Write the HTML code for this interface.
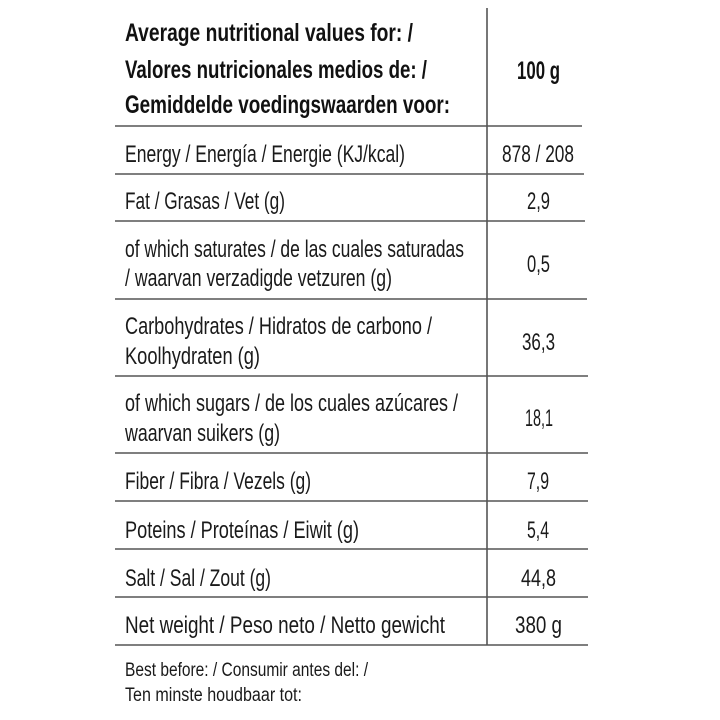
<!DOCTYPE html>
<html><head><meta charset="utf-8"><style>html,body{margin:0;padding:0;background:#fff}svg{display:block}</style></head>
<body>
<svg width="720" height="720" viewBox="0 0 720 720" xmlns="http://www.w3.org/2000/svg" font-family="Liberation Sans, sans-serif" fill="#111">
<g stroke="#555" stroke-width="1.6">
<line x1="487" y1="8" x2="487" y2="645"/>
<line x1="115" y1="126" x2="582" y2="126"/>
<line x1="115" y1="174" x2="584" y2="174"/>
<line x1="115" y1="221" x2="585" y2="221"/>
<line x1="115" y1="299" x2="587" y2="299"/>
<line x1="115" y1="376" x2="588" y2="376"/>
<line x1="115" y1="453" x2="588" y2="453"/>
<line x1="115" y1="501" x2="588" y2="501"/>
<line x1="115" y1="549" x2="588" y2="549"/>
<line x1="115" y1="597" x2="588" y2="597"/>
<line x1="115" y1="645" x2="588" y2="645"/>
</g>
<g font-weight="bold" font-size="25">
<text x="125" y="41" textLength="288" lengthAdjust="spacingAndGlyphs">Average nutritional values for: /</text>
<text x="125" y="78" textLength="302" lengthAdjust="spacingAndGlyphs">Valores nutricionales medios de: /</text>
<text x="125" y="113" textLength="325" lengthAdjust="spacingAndGlyphs">Gemiddelde voedingswaarden voor:</text>
<text x="517" y="79" textLength="43" lengthAdjust="spacingAndGlyphs">100 g</text>
</g>
<g font-size="24" fill="#1a1a1a">
<text x="125" y="162" textLength="280" lengthAdjust="spacingAndGlyphs">Energy / Energía / Energie (KJ/kcal)</text>
<text x="502" y="162" textLength="72" lengthAdjust="spacingAndGlyphs">878 / 208</text>
<text x="125" y="209" textLength="160" lengthAdjust="spacingAndGlyphs">Fat / Grasas / Vet (g)</text>
<text x="527" y="209" textLength="23" lengthAdjust="spacingAndGlyphs">2,9</text>
<text x="125" y="257" textLength="339" lengthAdjust="spacingAndGlyphs">of which saturates / de las cuales saturadas</text>
<text x="125" y="286" textLength="267" lengthAdjust="spacingAndGlyphs">/ waarvan verzadigde vetzuren (g)</text>
<text x="527" y="272" textLength="23" lengthAdjust="spacingAndGlyphs">0,5</text>
<text x="125" y="334" textLength="307" lengthAdjust="spacingAndGlyphs">Carbohydrates / Hidratos de carbono /</text>
<text x="125" y="364" textLength="135" lengthAdjust="spacingAndGlyphs">Koolhydraten (g)</text>
<text x="522" y="350" textLength="33" lengthAdjust="spacingAndGlyphs">36,3</text>
<text x="125" y="411" textLength="333" lengthAdjust="spacingAndGlyphs">of which sugars  / de los cuales azúcares /</text>
<text x="125" y="441" textLength="155" lengthAdjust="spacingAndGlyphs">waarvan suikers (g)</text>
<text x="525" y="426" textLength="28" lengthAdjust="spacingAndGlyphs">18,1</text>
<text x="125" y="489" textLength="186" lengthAdjust="spacingAndGlyphs">Fiber / Fibra / Vezels (g)</text>
<text x="527" y="489" textLength="22" lengthAdjust="spacingAndGlyphs">7,9</text>
<text x="125" y="538" textLength="234" lengthAdjust="spacingAndGlyphs">Poteins / Proteínas / Eiwit (g)</text>
<text x="527" y="538" textLength="22" lengthAdjust="spacingAndGlyphs">5,4</text>
<text x="125" y="586" textLength="146" lengthAdjust="spacingAndGlyphs">Salt / Sal / Zout (g)</text>
<text x="521" y="586" textLength="35" lengthAdjust="spacingAndGlyphs">44,8</text>
<text x="125" y="633" textLength="320" lengthAdjust="spacingAndGlyphs">Net weight / Peso neto / Netto gewicht</text>
<text x="515" y="633" textLength="47" lengthAdjust="spacingAndGlyphs">380 g</text>
</g>
<g font-size="19" fill="#1a1a1a">
<text x="125" y="676" textLength="243" lengthAdjust="spacingAndGlyphs">Best before: / Consumir antes del: /</text>
<text x="125" y="701" textLength="177" lengthAdjust="spacingAndGlyphs">Ten minste houdbaar tot:</text>
</g>
</svg>
</body></html>
